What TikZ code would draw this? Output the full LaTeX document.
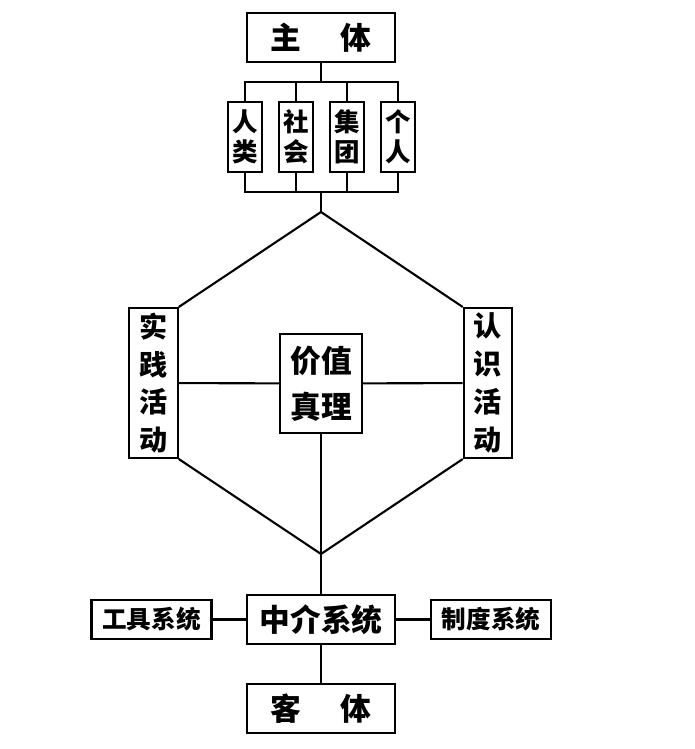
\documentclass[tikz,border=0pt]{standalone}
\usepackage{fontspec}
\newfontfamily\cjk{Noto Sans CJK SC}
\usetikzlibrary{positioning}

\begin{document}
\begin{tikzpicture}[
    x=0.02cm, y=-0.02cm, line width=1.2pt,
    box/.style={draw, inner sep=0pt, align=center, font=\cjk\bfseries\fontsize{17.5}{20}\selectfont},
    big/.style={box, minimum width=2.96cm, minimum height=0.98cm},
    grp/.style={box, minimum width=0.68cm, minimum height=1.4cm,
                font=\cjk\bfseries\fontsize{14.5}{17}\selectfont},
    act/.style={box, minimum width=0.97cm, minimum height=3cm,
                font=\cjk\bfseries\fontsize{16}{21.5}\selectfont},
    sys/.style={box, minimum width=2.4cm, minimum height=0.78cm,
                font=\cjk\bfseries\fontsize{14}{16}\selectfont},
]
\useasboundingbox (0,0) rectangle (695,749);

% subject and its groups
\node[big] (zt) at (321, 37.5) {主\hspace{1.3em}体};
\node[grp] (rl) at (245, 137) {人\\类};
\node[grp] (sh) at (296, 137) {社\\会};
\node[grp] (jt) at (347, 137) {集\\团};
\node[grp] (gr) at (398, 137) {个\\人};

\coordinate (up) at (321, 82);
\coordinate (dn) at (321, 192);
\coordinate (top) at (321, 212);
\coordinate (bot) at (321, 554);

\draw (zt.south) -- (up);
\draw (rl.north) -- (rl.north |- up) -- (gr.north |- up) -- (gr.north);
\draw (sh.north) -- (sh.north |- up);
\draw (jt.north) -- (jt.north |- up);
\draw (rl.south) -- (rl.south |- dn) -- (gr.south |- dn) -- (gr.south);
\draw (sh.south) -- (sh.south |- dn);
\draw (jt.south) -- (jt.south |- dn);
\draw (dn) -- (top);

% activities and value
\node[act] (sj) at (153.5, 383) {实\\践\\活\\动};
\node[act] (rs) at (488, 383) {认\\识\\活\\动};
\node[box, minimum width=1.64cm, minimum height=1.98cm,
      font=\cjk\bfseries\fontsize{17.5}{26}\selectfont] (jz) at (321, 383.5) {价值\\真理};

\draw (sj.north east) -- (top) -- (rs.north west);
\draw (sj.south east) -- (bot) -- (rs.south west);
\draw (sj) -- (jz) -- (rs);
\draw (jz.south) -- (bot);

% mediating systems and object
\node[big] (zj) at (321, 619.5) {中介系统};
\node[sys] (gj) at (151.5, 619.5) {工具系统};
\node[sys] (zd) at (491, 619.5) {制度系统};
\node[big] (kt) at (321, 708.5) {客\hspace{1.3em}体};

\draw (bot) -- (zj.north);
\draw (gj) -- (zj) -- (zd);
\draw (zj) -- (kt);
\end{tikzpicture}
\end{document}
